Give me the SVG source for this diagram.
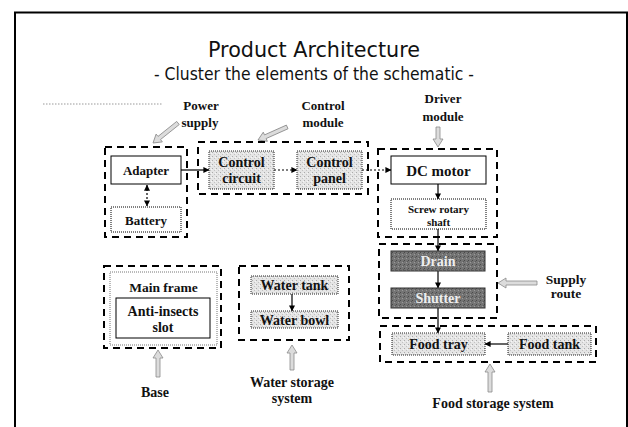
<svg xmlns="http://www.w3.org/2000/svg" width="628" height="427" viewBox="0 0 628 427">
  <defs>
    <pattern id="speckle" width="4" height="4" patternUnits="userSpaceOnUse">
      <rect width="4" height="4" fill="#e5e5e5"/>
      <rect x="0" y="0" width="1" height="1" fill="#ababab"/>
      <rect x="2" y="2" width="1" height="1" fill="#c2c2c2"/>
      <rect x="3" y="1" width="1" height="1" fill="#f6f6f6"/>
    </pattern>
    <pattern id="speckleDark" width="4" height="4" patternUnits="userSpaceOnUse">
      <rect width="4" height="4" fill="#747474"/>
      <rect x="0" y="0" width="1" height="1" fill="#4a4a4a"/>
      <rect x="2" y="2" width="1" height="1" fill="#9a9a9a"/>
      <rect x="3" y="1" width="1" height="1" fill="#5a5a5a"/>
    </pattern>
    <marker id="head" viewBox="0 0 8 8" refX="7.5" refY="4" markerWidth="6" markerHeight="6" orient="auto" markerUnits="userSpaceOnUse">
      <path d="M0,0 L8,4 L0,8 Z" fill="#000"/>
    </marker>
    <marker id="tail" viewBox="0 0 8 8" refX="0.5" refY="4" markerWidth="6" markerHeight="6" orient="auto" markerUnits="userSpaceOnUse">
      <path d="M8,0 L0,4 L8,8 Z" fill="#000"/>
    </marker>
  </defs>
  <style>
    .title { font-family: "DejaVu Sans", "Liberation Sans", sans-serif; fill: #111; }
    .lbl { font-family: "Liberation Serif", "Times New Roman", serif; font-weight: bold; fill: #111; text-anchor: middle; }
    .cluster { fill: none; stroke: #000; stroke-width: 2; stroke-dasharray: 7 5; }
    .box { fill: #fff; stroke: #000; stroke-width: 1; }
    .lite { fill: url(#speckle); stroke: #222; stroke-width: 1; stroke-dasharray: 1 1; }
    .dark { fill: url(#speckleDark); stroke: #333; stroke-width: 1; }
    .darktxt { fill: #eeeeee; }
    .flow { stroke: #000; stroke-width: 1.2; fill: none; marker-end: url(#head); }
    .dotted { stroke-dasharray: 2 2; }
    .callout { fill: #dcdcdc; stroke: #8a8a8a; stroke-width: 0.8; }
  </style>

  <!-- slide frame -->
  <rect width="628" height="427" fill="#fff"/>
  <path d="M15,427 V12.5 H627 V427" fill="none" stroke="#000" stroke-width="2"/>
  <line x1="43" y1="104" x2="162" y2="104" stroke="#999" stroke-width="1" stroke-dasharray="1.5 1.5"/>

  <!-- heading -->
  <text class="title" x="314" y="57" font-size="22" text-anchor="middle" textLength="212" lengthAdjust="spacingAndGlyphs">Product Architecture</text>
  <text class="title" x="314" y="80" font-size="17" text-anchor="middle" textLength="320" lengthAdjust="spacingAndGlyphs">- Cluster the elements of the schematic -</text>

  <!-- connectors -->
  <g id="connectors">
    <line class="flow" x1="147" y1="185" x2="147" y2="206" marker-start="url(#tail)" style="stroke-dasharray:2 2"/>
    <line class="flow" x1="181" y1="170" x2="209" y2="170"/>
    <line class="flow dotted" x1="274" y1="170" x2="297" y2="170"/>
    <line class="flow dotted" x1="362" y1="170" x2="391" y2="170"/>
    <line class="flow" x1="438" y1="184" x2="438" y2="199"/>
    <line class="flow" x1="438" y1="229" x2="438" y2="251"/>
    <line class="flow" x1="438" y1="271" x2="438" y2="288"/>
    <line class="flow" x1="438" y1="308" x2="438" y2="333"/>
    <line class="flow" x1="508" y1="344" x2="485" y2="344"/>
    <line class="flow" x1="292" y1="294" x2="292" y2="311"/>
  </g>

  <!-- cluster callout arrows -->
  <g id="callouts">
    <polygon class="callout" transform="translate(153,143) rotate(141.3)" points="-32,-2 -8,-2 -8,-5 0,0 -8,5 -8,2 -32,2"/>
    <polygon class="callout" transform="translate(258,140) rotate(155.9)" points="-32,-2 -8,-2 -8,-5 0,0 -8,5 -8,2 -32,2"/>
    <polygon class="callout" transform="translate(438,147) rotate(90)" points="-20,-2 -8,-2 -8,-5 0,0 -8,5 -8,2 -20,2"/>
    <polygon class="callout" transform="translate(498,283) rotate(180)" points="-39,-2 -8,-2 -8,-5 0,0 -8,5 -8,2 -39,2"/>
    <polygon class="callout" transform="translate(490,364) rotate(-90)" points="-28,-2 -8,-2 -8,-5 0,0 -8,5 -8,2 -28,2"/>
    <polygon class="callout" transform="translate(158,350) rotate(-90)" points="-27,-2 -8,-2 -8,-5 0,0 -8,5 -8,2 -27,2"/>
    <polygon class="callout" transform="translate(292,345) rotate(-90)" points="-25,-2 -8,-2 -8,-5 0,0 -8,5 -8,2 -25,2"/>
  </g>

  <!-- Power supply -->
  <g id="power-supply">
    <rect class="cluster" x="105" y="147" width="82" height="90"/>
    <text class="lbl" x="201" y="110" font-size="13">Power</text>
    <text class="lbl" x="200" y="127" font-size="13">supply</text>
  </g>
  <g id="adapter">
    <rect class="box" x="111" y="156" width="70" height="28"/>
    <text class="lbl" x="146" y="175" font-size="13">Adapter</text>
  </g>
  <g id="battery">
    <rect class="box" x="111" y="207" width="70" height="25" style="stroke-dasharray:1 1"/>
    <text class="lbl" x="146" y="225" font-size="13">Battery</text>
  </g>

  <!-- Control module -->
  <g id="control-module">
    <rect class="cluster" x="198" y="142" width="170" height="52"/>
    <text class="lbl" x="323" y="110" font-size="13">Control</text>
    <text class="lbl" x="323" y="127" font-size="13">module</text>
  </g>
  <g id="control-circuit">
    <rect class="lite" x="209" y="151" width="65" height="38"/>
    <text class="lbl" x="241.5" y="167" font-size="14">Control</text>
    <text class="lbl" x="241.5" y="183" font-size="14">circuit</text>
  </g>
  <g id="control-panel">
    <rect class="lite" x="297" y="151" width="65" height="38"/>
    <text class="lbl" x="329.5" y="167" font-size="14">Control</text>
    <text class="lbl" x="329.5" y="183" font-size="14">panel</text>
  </g>

  <!-- Driver module -->
  <g id="driver-module">
    <rect class="cluster" x="378" y="149" width="119" height="88"/>
    <text class="lbl" x="443" y="103" font-size="13">Driver</text>
    <text class="lbl" x="443" y="121" font-size="13">module</text>
  </g>
  <g id="dc-motor">
    <rect class="box" x="391" y="156" width="95" height="28"/>
    <text class="lbl" x="438.5" y="176" font-size="15">DC motor</text>
  </g>
  <g id="screw-shaft">
    <rect class="box" x="391" y="199" width="95" height="30" style="stroke-dasharray:1 1"/>
    <text class="lbl" x="438.5" y="213" font-size="11">Screw rotary</text>
    <text class="lbl" x="438.5" y="226" font-size="11">shaft</text>
  </g>

  <!-- Supply route -->
  <g id="supply-route">
    <rect class="cluster" x="379" y="244" width="118" height="74"/>
    <text class="lbl" x="566" y="284" font-size="13.5">Supply</text>
    <text class="lbl" x="566" y="298" font-size="13.5">route</text>
  </g>
  <g id="drain">
    <rect class="dark" x="391" y="251" width="94" height="20"/>
    <text class="lbl darktxt" x="438" y="266" font-size="14">Drain</text>
  </g>
  <g id="shutter">
    <rect class="dark" x="391" y="288" width="94" height="20"/>
    <text class="lbl darktxt" x="438" y="303" font-size="14">Shutter</text>
  </g>

  <!-- Food storage system -->
  <g id="food-storage">
    <rect class="cluster" x="380" y="326" width="216" height="36"/>
    <text class="lbl" x="493" y="408" font-size="14">Food storage system</text>
  </g>
  <g id="food-tray">
    <rect class="lite" x="392" y="333" width="93" height="22"/>
    <text class="lbl" x="438.5" y="349" font-size="14">Food tray</text>
  </g>
  <g id="food-tank">
    <rect class="lite" x="508" y="333" width="83" height="22"/>
    <text class="lbl" x="549.5" y="349" font-size="14">Food tank</text>
  </g>

  <!-- Base -->
  <g id="base">
    <rect class="cluster" x="104" y="266" width="117" height="82"/>
    <text class="lbl" x="155" y="397" font-size="14">Base</text>
  </g>
  <g id="main-frame">
    <rect class="box" x="110" y="272" width="107" height="73" style="stroke:#777;stroke-dasharray:1 1"/>
    <text class="lbl" x="163.5" y="292" font-size="13.5">Main frame</text>
  </g>
  <g id="anti-insects-slot">
    <rect class="box" x="116" y="298" width="94" height="40"/>
    <text class="lbl" x="163" y="316" font-size="14">Anti-insects</text>
    <text class="lbl" x="163" y="332" font-size="14">slot</text>
  </g>

  <!-- Water storage system -->
  <g id="water-storage">
    <rect class="cluster" x="239" y="266" width="110" height="74"/>
    <text class="lbl" x="292" y="387" font-size="14">Water storage</text>
    <text class="lbl" x="292" y="403" font-size="14">system</text>
  </g>
  <g id="water-tank">
    <rect class="lite" x="251" y="276" width="87" height="18"/>
    <text class="lbl" x="294.5" y="290" font-size="14">Water tank</text>
  </g>
  <g id="water-bowl">
    <rect class="lite" x="251" y="311" width="87" height="17"/>
    <text class="lbl" x="294.5" y="325" font-size="14">Water bowl</text>
  </g>
</svg>
